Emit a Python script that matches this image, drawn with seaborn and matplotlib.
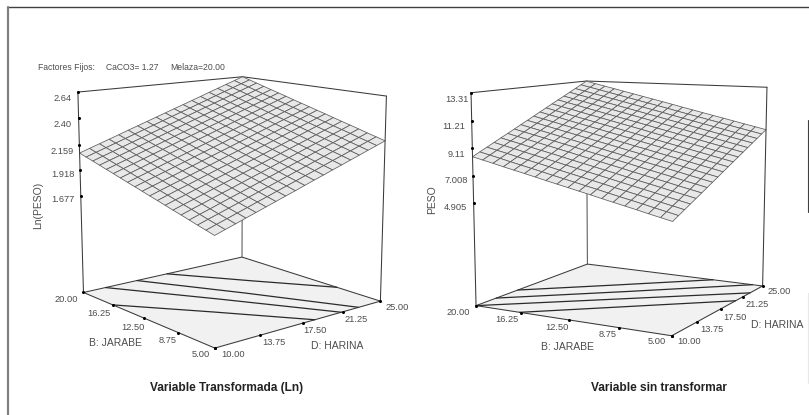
import numpy as np
import matplotlib
matplotlib.use("Agg")
import matplotlib.pyplot as plt
from matplotlib.lines import Line2D
import seaborn as sns

sns.set_theme(style="white")
plt.rcParams['font.family'] = ['Liberation Sans', 'DejaVu Sans']

W, H = 809, 415
B_TICKS = [5.00, 8.75, 12.50, 16.25, 20.00]
D_TICKS = [10.00, 13.75, 17.50, 21.25, 25.00]
B_LABELS = ["5.00", "8.75", "12.50", "16.25", "20.00"]
D_LABELS = ["10.00", "13.75", "17.50", "21.25", "25.00"]
B_GRID = [5.00, 5.83, 6.67, 7.50, 8.33, 9.17, 10.00, 10.83, 11.67, 12.50, 13.33, 14.17, 15.00, 15.83, 16.67, 17.50, 18.33, 19.17, 20.00]
D_GRID = [10.00, 10.83, 11.67, 12.50, 13.33, 14.17, 15.00, 15.83, 16.67, 17.50, 18.33, 19.17, 20.00, 20.83, 21.67, 22.50, 23.33, 24.17, 25.00]

Z1_TICKS = [1.677, 1.918, 2.159, 2.40, 2.64]
Z1_LABELS = ["1.677", "1.918", "2.159", "2.40", "2.64"]
Z1_FLOOR = 0.75
Z1 = [
 [1.690,1.721,1.751,1.782,1.812,1.843,1.873,1.904,1.934,1.965,1.996,2.026,2.057,2.087,2.118,2.148,2.179,2.209,2.240],
 [1.712,1.743,1.773,1.804,1.834,1.865,1.895,1.926,1.957,1.987,2.018,2.048,2.079,2.110,2.140,2.171,2.201,2.232,2.262],
 [1.733,1.764,1.794,1.825,1.855,1.886,1.917,1.947,1.978,2.008,2.039,2.070,2.100,2.131,2.162,2.192,2.223,2.253,2.284],
 [1.755,1.786,1.816,1.847,1.878,1.908,1.939,1.970,2.000,2.031,2.062,2.092,2.123,2.154,2.184,2.215,2.246,2.276,2.307],
 [1.777,1.808,1.838,1.869,1.900,1.930,1.961,1.992,2.022,2.053,2.084,2.114,2.145,2.176,2.206,2.237,2.268,2.298,2.329],
 [1.798,1.829,1.859,1.890,1.921,1.952,1.982,2.013,2.044,2.074,2.105,2.136,2.167,2.197,2.228,2.259,2.290,2.320,2.351],
 [1.820,1.851,1.881,1.912,1.943,1.974,2.004,2.035,2.066,2.096,2.127,2.158,2.189,2.219,2.250,2.281,2.312,2.342,2.373],
 [1.842,1.873,1.904,1.934,1.965,1.996,2.027,2.057,2.088,2.119,2.150,2.181,2.211,2.242,2.273,2.304,2.334,2.365,2.396],
 [1.863,1.894,1.925,1.955,1.986,2.017,2.048,2.079,2.110,2.140,2.171,2.202,2.233,2.264,2.295,2.325,2.356,2.387,2.418],
 [1.885,1.916,1.947,1.977,2.008,2.039,2.070,2.101,2.132,2.162,2.193,2.224,2.255,2.286,2.317,2.347,2.378,2.409,2.440],
 [1.907,1.938,1.969,1.999,2.030,2.061,2.092,2.123,2.154,2.184,2.215,2.246,2.277,2.308,2.339,2.369,2.400,2.431,2.462],
 [1.928,1.959,1.990,2.021,2.052,2.082,2.113,2.144,2.175,2.206,2.237,2.268,2.299,2.330,2.360,2.391,2.422,2.453,2.484],
 [1.950,1.981,2.012,2.043,2.074,2.105,2.136,2.167,2.198,2.228,2.259,2.290,2.321,2.352,2.383,2.414,2.445,2.476,2.507],
 [1.972,2.003,2.034,2.065,2.096,2.127,2.158,2.189,2.220,2.250,2.281,2.312,2.343,2.374,2.405,2.436,2.467,2.498,2.529],
 [1.993,2.024,2.055,2.086,2.117,2.148,2.179,2.210,2.241,2.272,2.303,2.334,2.365,2.396,2.427,2.458,2.489,2.520,2.551],
 [2.015,2.046,2.077,2.108,2.139,2.170,2.201,2.232,2.263,2.294,2.325,2.356,2.387,2.418,2.449,2.480,2.511,2.542,2.573],
 [2.037,2.068,2.099,2.130,2.161,2.192,2.223,2.254,2.285,2.316,2.348,2.379,2.410,2.441,2.472,2.503,2.534,2.565,2.596],
 [2.058,2.089,2.120,2.151,2.182,2.214,2.245,2.276,2.307,2.338,2.369,2.400,2.431,2.462,2.494,2.525,2.556,2.587,2.618],
 [2.080,2.111,2.142,2.173,2.204,2.236,2.267,2.298,2.329,2.360,2.391,2.422,2.453,2.484,2.516,2.547,2.578,2.609,2.640],
]
C1 = [([20, 14.6, 9.3], [17.5, 21.2, 25.0]),
      ([20, 12.5, 5], [14.7, 18.9, 22.8]),
      ([20, 12.5, 5], [11.9, 16.6, 21.1]),
      ([16.25, 10.6, 5], [10.0, 14.4, 18.6])]

Z2_TICKS = [4.905, 7.008, 9.11, 11.21, 13.31]
Z2_LABELS = ["4.905", "7.008", "9.11", "11.21", "13.31"]
Z2_FLOOR = -3.2
Z2 = [
 [5.00,5.27,5.54,5.81,6.08,6.35,6.62,6.89,7.16,7.44,7.71,7.98,8.25,8.52,8.79,9.06,9.33,9.60,9.87],
 [5.19,5.46,5.73,6.00,6.27,6.54,6.81,7.08,7.35,7.63,7.90,8.17,8.44,8.71,8.98,9.25,9.52,9.79,10.06],
 [5.38,5.65,5.92,6.19,6.46,6.73,7.00,7.27,7.54,7.82,8.09,8.36,8.63,8.90,9.17,9.44,9.71,9.98,10.25],
 [5.58,5.85,6.12,6.39,6.66,6.93,7.20,7.47,7.74,8.01,8.28,8.55,8.82,9.09,9.36,9.63,9.90,10.17,10.44],
 [5.77,6.04,6.31,6.58,6.85,7.12,7.39,7.66,7.93,8.20,8.47,8.74,9.01,9.28,9.55,9.82,10.09,10.36,10.63],
 [5.96,6.23,6.50,6.77,7.04,7.31,7.58,7.85,8.12,8.39,8.66,8.93,9.20,9.47,9.74,10.01,10.28,10.55,10.82],
 [6.15,6.42,6.69,6.96,7.23,7.50,7.77,8.04,8.31,8.58,8.85,9.12,9.39,9.66,9.93,10.20,10.47,10.74,11.01],
 [6.35,6.62,6.89,7.16,7.43,7.70,7.97,8.24,8.51,8.78,9.04,9.31,9.58,9.85,10.12,10.39,10.66,10.93,11.20],
 [6.54,6.81,7.08,7.35,7.62,7.89,8.16,8.43,8.70,8.96,9.23,9.50,9.77,10.04,10.31,10.58,10.85,11.12,11.39],
 [6.73,7.00,7.27,7.54,7.81,8.08,8.35,8.62,8.89,9.16,9.43,9.70,9.97,10.24,10.51,10.78,11.05,11.32,11.59],
 [6.92,7.19,7.46,7.73,8.00,8.27,8.54,8.81,9.08,9.35,9.62,9.89,10.16,10.43,10.70,10.97,11.24,11.51,11.78],
 [7.11,7.38,7.65,7.92,8.19,8.46,8.73,9.00,9.27,9.54,9.81,10.08,10.35,10.62,10.89,11.16,11.43,11.70,11.97],
 [7.31,7.58,7.85,8.12,8.39,8.66,8.93,9.20,9.47,9.73,10.00,10.27,10.54,10.81,11.08,11.35,11.62,11.89,12.16],
 [7.50,7.77,8.04,8.31,8.58,8.85,9.12,9.39,9.66,9.92,10.19,10.46,10.73,11.00,11.27,11.54,11.81,12.08,12.35],
 [7.69,7.96,8.23,8.50,8.77,9.04,9.31,9.58,9.85,10.11,10.38,10.65,10.92,11.19,11.46,11.73,12.00,12.27,12.54],
 [7.88,8.15,8.42,8.69,8.96,9.23,9.50,9.77,10.04,10.30,10.57,10.84,11.11,11.38,11.65,11.92,12.19,12.46,12.73],
 [8.08,8.35,8.62,8.89,9.16,9.42,9.69,9.96,10.23,10.50,10.77,11.04,11.31,11.58,11.84,12.11,12.38,12.65,12.92],
 [8.27,8.54,8.81,9.08,9.35,9.61,9.88,10.15,10.42,10.69,10.96,11.23,11.50,11.77,12.03,12.30,12.57,12.84,13.11],
 [8.46,8.73,9.00,9.27,9.54,9.80,10.07,10.34,10.61,10.88,11.15,11.42,11.69,11.96,12.22,12.49,12.76,13.03,13.30],
]
C1_LW = 0.9
C2 = [([20, 14.5, 9.0], [15.1, 20.0, 25.0]),
      ([20, 12.9, 5.8], [12.4, 18.6, 25.0]),
      ([20, 12.5, 5], [10.0, 16.3, 22.6]),
      ([16.4, 10.7, 5], [10.0, 15.0, 20.0])]

# camera calibration (layout only): box corner -> pixel
def cam_pts(zf, zt, ztick, tickpx, floor_px, top_px):
    (l, f, r, b), (tl, tb, tr) = floor_px, top_px
    return [(20, 10, zf, *l), (5, 10, zf, *f), (5, 25, zf, *r), (20, 25, zf, *b),
            (20, 10, zt, *tl), (20, 25, zt, *tb), (5, 25, zt, *tr), (20, 10, ztick, *tickpx)]

def make_camera(ax, pts):
    A, y = [], []
    for (a, b, c, px, py) in pts:
        dx, dy = px, H - py
        A.append([a, b, c, 1, 0, 0, 0, 0, -dx*a, -dx*b, -dx*c]); y.append(dx)
        A.append([0, 0, 0, 0, a, b, c, 1, -dy*a, -dy*b, -dy*c]); y.append(dy)
    p = np.linalg.lstsq(np.array(A, float), np.array(y, float), rcond=None)[0]
    P = np.array([p[:4], p[4:8], [*p[8:], 1.0]])
    null = np.linalg.svd(P)[2][-1]
    def get_proj():
        ax.apply_aspect()
        Tinv = np.linalg.inv(ax.transData.get_affine().get_matrix())
        Q = Tinv @ P
        return np.vstack([Q[0], Q[1], null, Q[2]])
    ax.get_proj = get_proj

fig = plt.figure(figsize=(W/100, H/100), dpi=100, facecolor="white")
TXT = "#4d4d4d"; EDGE = "#3a3a3a"

def T(px, py, s, size=6.7, color=TXT, ha="center", **kw):
    fig.text(px/W, 1-py/H, s, fontsize=size, color=color, ha=ha, va="center", **kw)

def panel(rect, pts, bv, dv, z, zf, zt, zticks, contours):
    ax = fig.add_axes(rect, projection="3d", computed_zorder=False, proj_type="ortho")
    ax.set_axis_off()
    make_camera(ax, pts)
    def L(x, y, zz, zo=2, c=EDGE, lw=0.75):
        ax.plot(x, y, zz, color=c, lw=lw, zorder=zo, clip_on=False)
    BB, DD = np.meshgrid([5, 20], [10, 25], indexing="ij")
    ax.plot_surface(BB, DD, np.full_like(BB, zf, dtype=float), color="#f1f1f1", shade=False,
                    linewidth=0, zorder=1)
    L([20, 5, 5, 20, 20], [10, 10, 25, 25, 10], [zf]*5)
    for c in contours:
        L(c[0], c[1], [zf]*len(c[0]), c="#2a2a2a", lw=C1_LW)
    L([20, 20], [25, 25], [zf, zt], c="#555555")
    L([20, 20, 5], [10, 25, 25], [zt]*3)
    b, d = np.meshgrid(bv, dv, indexing="ij")
    ax.plot_surface(b, d, np.array(z), rcount=len(bv), ccount=len(dv), color="#e8e8e8",
                    edgecolor="#5c5c5c", linewidth=0.55, shade=False, zorder=3)
    L([20, 20], [10, 10], [zf, zt], zo=4)
    L([5, 5], [25, 25], [zf, zt], zo=4)
    kw = dict(color="black", marker="o", ms=1.2, ls="none", zorder=5, clip_on=False)
    ax.plot([20]*len(zticks), [10]*len(zticks), zticks, **kw)
    ax.plot(B_TICKS, [10]*5, [zf]*5, **kw)
    ax.plot([5]*5, D_TICKS, [zf]*5, **kw)
    return ax

pts1 = cam_pts(Z1_FLOOR, 2.64, 1.677, (81, 195),
               [(83.3, 292.7), (215, 348.3), (380, 301), (242.3, 257.3)],
               [(77.7, 92.7), (242.3, 76.7), (386.7, 96)])
pts2 = cam_pts(Z2_FLOOR, 13.31, 4.905, (473.7, 201.7),
               [(476, 306), (671.7, 336), (762.3, 285.7), (587.7, 264.3)],
               [(471, 93.3), (586, 81), (767.3, 87.3)])

panel([0, 0, 404/W, 1], pts1, B_GRID, D_GRID, Z1, Z1_FLOOR, 2.64, Z1_TICKS, C1)
panel([404/W, 0, 405/W, 1], pts2, B_GRID, D_GRID, Z2, Z2_FLOOR, 13.31, Z2_TICKS, C2)

# texts, left panel
T(37.7, 67, "Factores Fijos:", size=6.2, ha="left")
T(106, 67, "CaCO3= 1.27", size=6.2, ha="left")
T(170, 67, "Melaza=20.00", size=6.2, ha="left")
for s, (x, y) in zip(Z1_LABELS, [(63, 199.3), (62.5, 174), (62.5, 151.7), (63, 124.7), (62.5, 98.7)]):
    T(x, y, s)
T(38.3, 205, "Ln(PESO)", size=7.5, rotation=90)
for s, xy in zip(B_LABELS, [(200.7, 354.3), (167.7, 340.7), (132.7, 327.3), (99.3, 313.3), (66.7, 299)]):
    T(*xy, s)
for s, xy in zip(D_LABELS, [(232.7, 354.3), (274.3, 342.7), (315, 330.3), (356, 319), (397, 307.3)]):
    T(*xy, s)
T(115, 343.3, "B: JARABE", size=7.5)
T(336.7, 345.7, "D: HARINA", size=7.5)
T(226.7, 388.3, "Variable Transformada (Ln)", size=8.55, color="#222222", fontweight="bold")

# texts, right panel
for s, xy in zip(Z2_LABELS, [(455.8, 207.3), (456.7, 180.3), (456.7, 154), (453.3, 126), (456.7, 99.3)]):
    T(*xy, s)
T(432, 200, "PESO", size=7.5, rotation=90)
for s, xy in zip(B_LABELS, [(656.3, 341.7), (607.7, 334.3), (556.7, 327), (507.3, 319.7), (458.3, 312.3)]):
    T(*xy, s)
for s, xy in zip(D_LABELS, [(689, 341.7), (711.7, 329), (734.7, 317.3), (756.7, 304.7), (779, 291.7)]):
    T(*xy, s)
T(567.3, 346.7, "B: JARABE", size=7.5)
T(777.3, 325.3, "D: HARINA", size=7.5)
T(659, 388.3, "Variable sin transformar", size=8.55, color="#222222", fontweight="bold")

# frame
def F(x0, y0, x1, y1, c, lw):
    fig.add_artist(Line2D([x0/W, x1/W], [1-y0/H, 1-y1/H], color=c, lw=lw, transform=fig.transFigure))
F(8, 7.5, 809, 7.5, "#404040", 1.0)
F(8, 7, 8, 415, "#808080", 1.6)
F(807.5, 120, 807.5, 212, "#404040", 0.8)
F(807.5, 293, 807.5, 383, "#e8e8e8", 0.8)

fig.savefig("out.png", dpi=100, facecolor="white")
